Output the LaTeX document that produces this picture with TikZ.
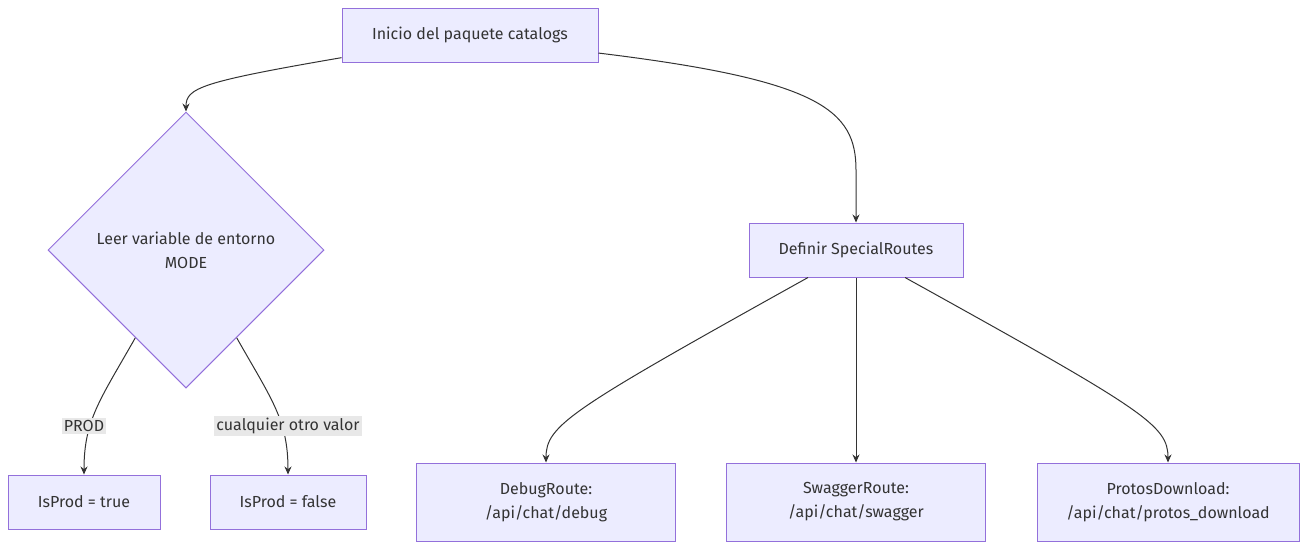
\documentclass[tikz,border=0pt]{standalone}
\usepackage{fontspec}
\setmainfont{Fira Sans}
\usepackage{tikz}
\usetikzlibrary{arrows.meta,shapes.geometric}

\definecolor{boxfill}{HTML}{ECECFF}
\definecolor{boxline}{HTML}{9370DB}
\definecolor{ink}{HTML}{333333}
\definecolor{lblfill}{HTML}{E8E8E8}

\begin{document}
\begin{tikzpicture}[x=1pt,y=-1pt,>={Stealth[length=8pt,width=7pt]},
  font=\fontsize{16}{24}\selectfont, text=ink,
  box/.style={draw=boxline, fill=boxfill, line width=1pt, rectangle, align=center, inner sep=0pt},
  choice/.style={draw=boxline, fill=boxfill, line width=1pt, diamond, aspect=1, inner sep=0pt, minimum width=276pt, minimum height=276pt, align=center},
  conn/.style={->, draw=ink, line width=1pt},
  lbl/.style={fill=lblfill, inner sep=2pt}]
  \useasboundingbox (0,0) rectangle (1308,550);

  \node [box, minimum width=256pt, minimum height=54pt] (0) at (470,35) {Inicio del paquete catalogs};
  \node [choice] (1) at (186,250) {};
  \node [align=center] (1t) at (186,250) {Leer variable de entorno\\MODE};
  \node [box, minimum width=214pt, minimum height=54pt] (2) at (856,250) {Definir SpecialRoutes};
  \node [box, minimum width=152pt, minimum height=54pt] (3) at (84,502) {IsProd = true};
  \node [box, minimum width=156pt, minimum height=54pt] (4) at (288,502) {IsProd = false};
  \node [box, minimum width=259pt, minimum height=78pt] (5) at (546,502) {DebugRoute:\\/api/chat/debug};
  \node [box, minimum width=259pt, minimum height=78pt] (6) at (856,502) {SwaggerRoute:\\/api/chat/swagger};
  \node [box, minimum width=262pt, minimum height=78pt] (7) at (1168,502) {ProtosDownload:\\/api/chat/protos\_download};

  \draw [conn] (0.190) .. controls (200,82) and (186,88) .. (1.north);
  \draw [conn] (0.-8) .. controls (820,80) and (856,110) .. (856,170) -- (2.north);
  \draw [conn] (1.240) .. controls (100,400) and (84,420) .. (3.north);
  \draw [conn] (1.300) .. controls (272,400) and (288,420) .. (4.north);
  \draw [conn] ([xshift=-48pt]2.south) .. controls (570,410) and (546,425) .. (5.north);
  \draw [conn] (2.south) -- (6.north);
  \draw [conn] ([xshift=49pt]2.south) .. controls (1144,410) and (1168,425) .. (7.north);

  \node [lbl] (l3) at (84,426) {PROD};
  \node [lbl] (l4) at (288,426) {cualquier otro valor};

\end{tikzpicture}
\end{document}
